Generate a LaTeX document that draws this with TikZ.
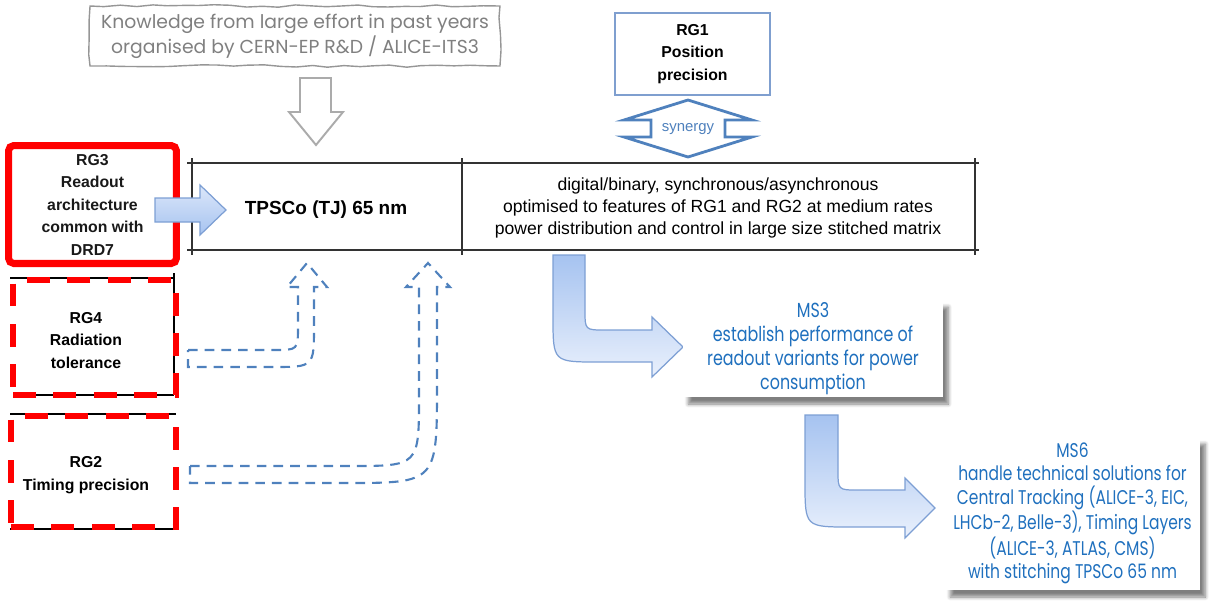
\documentclass[tikz,border=0pt]{standalone}
\usepackage{fontspec}
\setmainfont{Liberation Sans}
\newfontfamily\roundfont{Poppins}
\newfontfamily\msfont[FakeStretch=0.78]{Poppins}
\usetikzlibrary{shapes,arrows,positioning,decorations.pathmorphing,shadows,shadows.blur}
\definecolor{signalred}{RGB}{255,0,0}
\definecolor{steelblue}{RGB}{79,129,189}
\definecolor{msblue}{RGB}{31,112,190}
\definecolor{flowtop}{RGB}{166,195,240}
\definecolor{flowbottom}{RGB}{233,240,252}
\definecolor{flowedge}{RGB}{125,159,212}
\definecolor{framegray}{RGB}{150,150,150}
\definecolor{textgray}{RGB}{128,128,128}
\definecolor{gridline}{RGB}{51,51,51}
\definecolor{rgoneedge}{RGB}{127,159,207}
\tikzset{
    % Research goal boxes
    rgsolid/.style={
        rectangle, draw=signalred, line width=4pt, rounded corners=3pt,
        align=center, inner sep=0pt, text=black!90,
        font=\bfseries\fontsize{9}{12.8}\selectfont
    },
    rgdashed/.style={
        rectangle, draw=signalred, line width=3.4pt,
        dash pattern=on 13pt off 10pt,
        align=center, inner sep=0pt, text=black!90,
        font=\bfseries\fontsize{9}{12.8}\selectfont
    },
    % Hand drawn note frame
    notebox/.style={
        rectangle, draw=framegray, line width=0.8pt,
        decorate, decoration={random steps, segment length=9pt, amplitude=0.8pt},
        text=textgray, align=center,
        font=\roundfont\fontsize{10.7}{14.2}\selectfont
    },
    % Milestone boxes
    msbox/.style={
        rectangle, fill=white, inner sep=0pt, align=center, text=msblue,
        blur shadow={shadow xshift=3pt, shadow yshift=-4pt,
            shadow blur steps=6, shadow opacity=50}
    },
    % Block arrows
    flowarrow/.style={
        draw=flowedge, line width=0.7pt,
        top color=flowtop, bottom color=flowbottom
    },
    hollowdash/.style={
        draw=steelblue, line width=1.2pt, dash pattern=on 5.5pt off 4pt
    }
}

\begin{document}
\begin{tikzpicture}[x=0.02cm, y=-0.02cm]
\useasboundingbox (0,0) rectangle (1214,606);
\pgfmathsetseed{11}

% Knowledge note and its arrow
\node[notebox, minimum width=8.2cm, minimum height=1.2cm] (know) at (295,36)
    {Knowledge from large effort in past years\\organised by CERN-EP R\&D / ALICE-ITS3};
\draw[draw=framegray!80, line width=1.1pt, fill=white]
    (300,78) -- (331,78) -- (331,112) -- (343,112) -- (316,145)
    -- (289,112) -- (300,112) -- cycle;

% RG1 and synergy arrow
\node[rectangle, draw=rgoneedge, line width=0.9pt, align=center,
    minimum width=3.1cm, minimum height=1.64cm,
    font=\bfseries\fontsize{9}{12.8}\selectfont] (rg1) at (692.5,54)
    {RG1\\Position\\precision};
\draw[draw=steelblue, line width=1.6pt, fill=white]
    (688,100) -- (752,120) -- (725,120) -- (725,137) -- (752,137)
    -- (688,157) -- (624,137) -- (651,137) -- (651,120) -- (624,120) -- cycle;
\node[text=steelblue, font=\fontsize{8.5}{10}\selectfont] (syn) at (688,129) {synergy};

% Technology table
\draw[gridline, line width=1.1pt]
    (187,163) -- (979,163)
    (187,250) -- (979,250)
    (192,158) -- (192,255)
    (462,158) -- (462,255)
    (975,158) -- (975,255);
\node[font=\bfseries\fontsize{10.8}{13}\selectfont] (tpsco) at (326,210) {TPSCo (TJ) 65 nm};
\node[align=center, font=\fontsize{10}{12.6}\selectfont] (features) at (718,208)
    {digital/binary, synchronous/asynchronous\\
     optimised to features of RG1 and RG2 at medium rates\\
     power distribution and control in large size stitched matrix};

% Research goals on the left
\draw[black, line width=0.7pt]
    (10,278) -- (174,278) (174,273) -- (174,395) (25,395) -- (174,395)
    (10,414) -- (176,414) (10,529) -- (176,529);
\node[rgsolid, minimum width=3.36cm, minimum height=2.36cm] (rg3) at (92.5,204.5)
    {RG3\\Readout\\architecture\\common with\\DRD7};
\node[rgdashed, minimum width=3.26cm, minimum height=2.3cm] (rg4) at (94.5,337.5) {};
\node[font=\bfseries\fontsize{9}{12.8}\selectfont, align=center] (rg4txt) at (86,340.5)
    {RG4\\Radiation\\tolerance};
\node[rgdashed, minimum width=3.3cm, minimum height=2.22cm] (rg2) at (93.5,471.5) {};
\node[font=\bfseries\fontsize{9}{12.8}\selectfont, align=center] (rg2txt) at (86,475)
    {RG2\\Timing precision};

% RG3 feeds the technology
\draw[flowarrow, top color=flowbottom!80!flowtop, bottom color=flowtop]
    (155,198) -- (200,198) -- (200,185) -- (226,210) -- (200,235)
    -- (200,222) -- (155,222) -- cycle;

% RG4 and RG2 inputs
\draw[hollowdash]
    (188,350) -- (274,350) .. controls (298,350) .. (298,326) -- (298,287)
    -- (287,287) -- (307,263) -- (327,287) -- (314,287) -- (314,326)
    .. controls (314,367) .. (273,367) -- (188,367) -- cycle;
\draw[hollowdash]
    (190,466) -- (350,466) .. controls (419,466) .. (419,396) -- (419,287)
    -- (406,287) -- (428,263) -- (450,287) -- (437,287) -- (437,385)
    .. controls (437,483) .. (345,483) -- (190,483) -- cycle;

% Milestones
\draw[flowarrow]
    (553,255) -- (585,255) -- (585,310) .. controls (585,330) .. (605,330)
    -- (652,330) -- (652,317) -- (683,347) -- (652,377) -- (652,362)
    -- (598,362) .. controls (553,362) .. (553,317) -- cycle;
\node[msbox, minimum width=5.2cm, minimum height=1.94cm,
    font=\msfont\fontsize{11.6}{13.6}\selectfont] (ms3) at (813,348.5)
    {MS3\\establish performance of\\readout variants for power\\consumption};
\draw[flowarrow]
    (805,415) -- (838,415) -- (838,470) .. controls (838,490) .. (858,490)
    -- (905,490) -- (905,478) -- (935,508) -- (905,538) -- (905,527)
    -- (850,527) .. controls (805,527) .. (805,482) -- cycle;
\node[msbox, minimum width=5.1cm, minimum height=3.06cm,
    font=\msfont\fontsize{11.3}{13.2}\selectfont] (ms6) at (1072.5,513.5)
    {MS6\\handle technical solutions for\\Central Tracking (ALICE-3, EIC,\\
     LHCb-2, Belle-3), Timing Layers\\(ALICE-3, ATLAS, CMS)\\with stitching TPSCo 65 nm};

\end{tikzpicture}
\end{document}
